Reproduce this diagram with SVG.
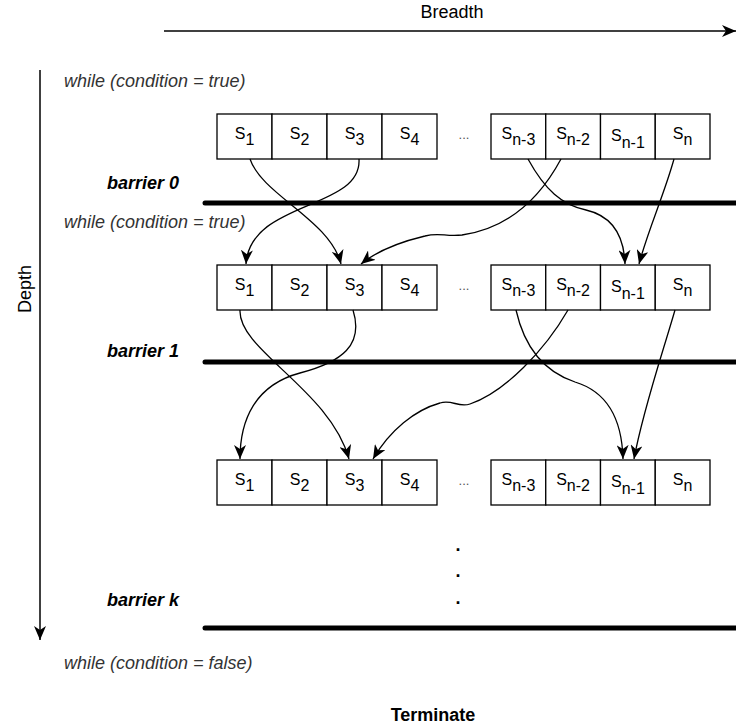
<svg xmlns="http://www.w3.org/2000/svg" width="736" height="727" viewBox="0 0 736 727">
<style>
.t{font-family:"Liberation Sans",Arial,sans-serif;fill:#000}
.w{font-family:"Liberation Sans",Arial,sans-serif;font-size:18px;font-style:italic;fill:#333}
.b{font-family:"Liberation Sans",Arial,sans-serif;font-size:18px;font-style:italic;font-weight:bold;fill:#000}
.cell{fill:#fff;stroke:#000;stroke-width:1.3}
.lbl{font-family:"Liberation Sans",Arial,sans-serif;font-size:16px;text-anchor:middle;fill:#000}
.dots{font-family:"Liberation Sans",Arial,sans-serif;font-size:13px;text-anchor:middle;fill:#555}
.bar{stroke:#000;stroke-width:5;stroke-linecap:round}
.conn{fill:none;stroke:#000;stroke-width:1.3;marker-end:url(#arr)}
.axis{fill:none;stroke:#000;stroke-width:1.5;marker-end:url(#arr)}
</style>
<defs>
<marker id="arr" viewBox="0 0 14 12" refX="14" refY="6" markerWidth="14" markerHeight="12" markerUnits="userSpaceOnUse" orient="auto">
<path d="M0,0 L14,6 L0,12 L4,6 Z" fill="#000"/>
</marker>
<g id="rowTpl">
<rect class="cell" x="217" y="0" width="55" height="45"/>
<rect class="cell" x="272" y="0" width="55" height="45"/>
<rect class="cell" x="327" y="0" width="55" height="45"/>
<rect class="cell" x="382" y="0" width="55" height="45"/>
<rect class="cell" x="491" y="0" width="54.75" height="45"/>
<rect class="cell" x="545.75" y="0" width="54.75" height="45"/>
<rect class="cell" x="600.5" y="0" width="54.75" height="45"/>
<rect class="cell" x="655.25" y="0" width="54.75" height="45"/>
<text class="lbl" x="244.5" y="25">S<tspan dy="6">1</tspan></text>
<text class="lbl" x="299.5" y="25">S<tspan dy="6">2</tspan></text>
<text class="lbl" x="354.5" y="25">S<tspan dy="6">3</tspan></text>
<text class="lbl" x="409.5" y="25">S<tspan dy="6">4</tspan></text>
<text class="dots" x="464" y="25">...</text>
<text class="lbl" x="518.4" y="25">S<tspan dy="6">n-3</tspan></text>
<text class="lbl" x="573.1" y="25">S<tspan dy="6">n-2</tspan></text>
<text class="lbl" x="627.9" y="27">S<tspan dy="7">n-1</tspan></text>
<text class="lbl" x="682.6" y="25">S<tspan dy="6">n</tspan></text>
</g>
</defs>

<g id="axes">
<text class="t" x="452" y="18" font-size="18" text-anchor="middle">Breadth</text>
<path class="axis" d="M164,31 L736,31"/>
<text class="t" font-size="18" text-anchor="middle" transform="translate(31,289) rotate(-90)">Depth</text>
<path class="axis" d="M40,70 L40,640"/>
</g>

<g id="labels">
<text class="w" x="64" y="87">while (condition = true)</text>
<text class="b" x="107" y="189">barrier 0</text>
<text class="w" x="64" y="228">while (condition = true)</text>
<text class="b" x="107" y="357">barrier 1</text>
<text class="b" x="107" y="606">barrier k</text>
<text class="w" x="64" y="669">while (condition = false)</text>
<text class="t" x="433" y="721" font-size="18" font-weight="bold" text-anchor="middle">Terminate</text>
<text class="t" x="458" y="551" font-size="18" font-weight="bold" text-anchor="middle">.</text>
<text class="t" x="458" y="577" font-size="18" font-weight="bold" text-anchor="middle">.</text>
<text class="t" x="458" y="604" font-size="18" font-weight="bold" text-anchor="middle">.</text>
</g>

<g id="barriers">
<line class="bar" x1="205" y1="203" x2="745" y2="203"/>
<line class="bar" x1="205" y1="362" x2="745" y2="362"/>
<line class="bar" x1="205" y1="628" x2="745" y2="628"/>
</g>

<g id="row1"><use href="#rowTpl" y="114"/></g>
<g id="row2"><use href="#rowTpl" y="265"/></g>
<g id="row3"><use href="#rowTpl" y="460"/></g>

<g id="connectors">
<path class="conn" d="M250,159 C262,195 330,220 341,264"/>
<path class="conn" d="M359,159 C362,210 250,200 246,264"/>
<path class="conn" d="M561,159 C540,198 510,228 462,235 C445,237 440,232 425,236 C400,242 378,250 361,264"/>
<path class="conn" d="M528,159 C545,190 562,205 586,210 C612,216 624,236 625,264"/>
<path class="conn" d="M674,159 C664,195 648,230 639,264"/>
<path class="conn" d="M240,310 C238,350 330,390 349,459"/>
<path class="conn" d="M353,310 C364,345 342,362 300,373 C255,385 240,420 240,459"/>
<path class="conn" d="M568,310 C545,350 505,392 470,404 C458,408 452,399 440,403 C415,410 390,430 373,459"/>
<path class="conn" d="M516,310 C525,350 545,372 575,382 C608,392 622,420 623,459"/>
<path class="conn" d="M675,310 C662,355 643,410 634,459"/>
</g>
</svg>
